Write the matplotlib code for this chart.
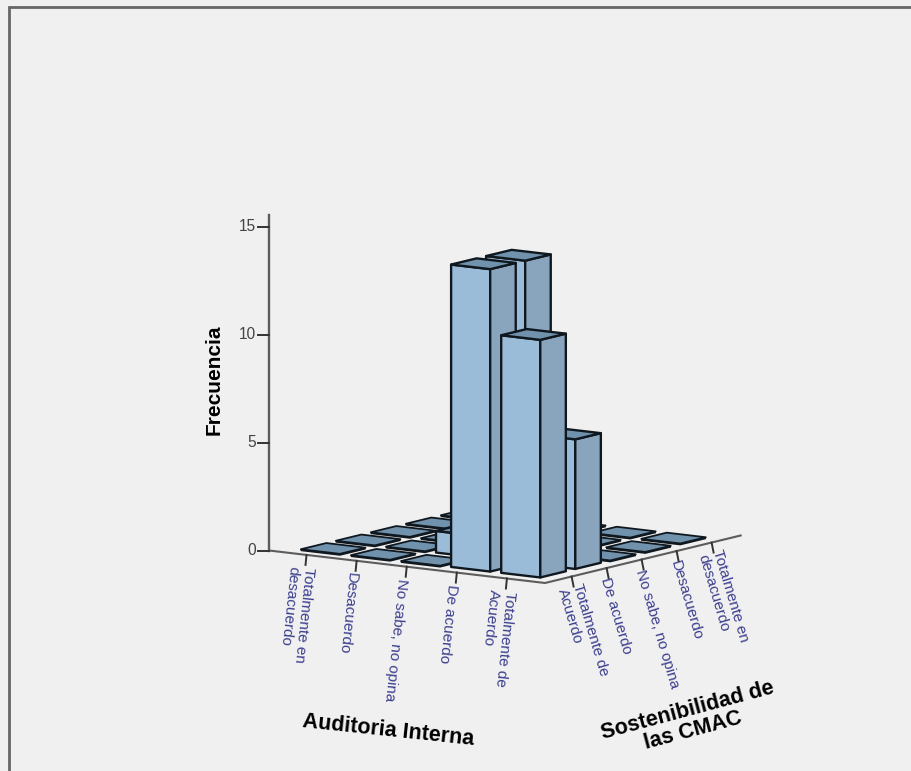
import numpy as np
import matplotlib
matplotlib.use("Agg")
import matplotlib.pyplot as plt
from matplotlib.patches import Polygon

plt.rcParams['font.family'] = ['Liberation Sans', 'DejaVu Sans']

# Crosstab counts: rows are Auditoria Interna, columns are Sostenibilidad de las CMAC
auditoria_labels = ["Totalmente en\ndesacuerdo", "Desacuerdo", "No sabe, no opina",
                    "De acuerdo", "Totalmente de\nAcuerdo"]
sostenibilidad_labels = ["Totalmente de\nAcuerdo", "De acuerdo", "No sabe, no opina",
                         "Desacuerdo", "Totalmente en\ndesacuerdo"]
frecuencia = [
    [0, 0, 0, 0, 0],
    [0, 0, 0, 0, 0],
    [0, 1, 0, 0, 0],
    [14, 14, 0, 0, 0],
    [11, 6, 0, 0, 0],
]
z_ticks = [0, 5, 10, 15]

W, H = 911, 771
BG = '#f0f0f0'
FRONT, SIDE, TOP = '#9bbcd9', '#89a4bd', '#7092ad'
EDGE = '#10181f'
AXIS = '#5c5c5c'
TICK = '#333333'
LABEL = '#3c3f8e'

fig = plt.figure(figsize=(W / 100, H / 100), dpi=100, facecolor=BG)
ax = fig.add_axes([0, 0, 1, 1])
ax.set_xlim(0, W)
ax.set_ylim(H, 0)
ax.axis('off')

# Oblique projection of the floor: a runs along Auditoria, s along Sostenibilidad
ORIGIN = np.array([545.0, 583.0])
U = np.array([50.1, 5.9])
V = np.array([35.0, -8.5])
PX_PER_UNIT = 21.6
MARGIN = 0.76
BAR_W, BAR_D = 0.78, 0.73
n = len(auditoria_labels)


def project(a, s, z=0.0):
    """a and s are category positions, with category centres on the integers."""
    p = ORIGIN + U * (a - (n - 1) - MARGIN) + V * (s + MARGIN)
    return (p[0], p[1] - z * PX_PER_UNIT)


def draw_bar(i, j, value, order):
    a0, a1 = i - BAR_W / 2, i + BAR_W / 2
    s0, s1 = j - BAR_D / 2, j + BAR_D / 2
    style = dict(edgecolor=EDGE, linewidth=1.7, joinstyle='round', zorder=order)
    if value > 0:
        ax.add_patch(Polygon([project(a0, s0), project(a1, s0),
                              project(a1, s0, value), project(a0, s0, value)],
                             facecolor=FRONT, **style))
        ax.add_patch(Polygon([project(a1, s0), project(a1, s1),
                              project(a1, s1, value), project(a1, s0, value)],
                             facecolor=SIDE, **style))
    else:
        # Empty cells still show a thin dark slab below their top
        slab = [project(a, s) for a, s in [(a0, s0), (a1, s0), (a1, s1), (a0, s1)]]
        slab = [(x, y + 1.0) for x, y in slab]
        ax.add_patch(Polygon(slab, facecolor=EDGE, edgecolor=EDGE, linewidth=1.3, zorder=order))
        style['linewidth'] = 1.3
    ax.add_patch(Polygon([project(a0, s0, value), project(a1, s0, value),
                          project(a1, s1, value), project(a0, s1, value)],
                         facecolor=TOP, **style))


# Painter's order: far columns first, then towards the viewer along Auditoria
order = 10
for j in range(n - 1, -1, -1):
    for i in range(n):
        draw_bar(i, j, frecuencia[i][j], order)
        order += 1

# Floor edges
left = project(-0.74, -MARGIN)
corner = project(n - 1 + MARGIN, -MARGIN)
right = project(n - 1 + MARGIN, n - 1 + 0.83)
ax.plot([left[0], corner[0], right[0]], [left[1], corner[1], right[1]],
        color=AXIS, lw=1.5, zorder=5, solid_joinstyle='miter')

# Vertical axis
base = left
ax.plot([base[0], base[0]], [base[1], base[1] - 15.55 * PX_PER_UNIT], color=AXIS, lw=1.7, zorder=5)
for t in z_ticks:
    y = base[1] - t * PX_PER_UNIT
    ax.plot([base[0] - 11, base[0]], [y, y], color=TICK, lw=1.4, zorder=5)
    ax.text(base[0] - 13, y, str(t), ha='right', va='center', fontsize=11.2, color='#444444')
ax.text(214.5, 380, "Frecuencia", rotation=90, ha='center', va='center',
        fontsize=15, fontweight='bold', color='black')

# Category ticks and their slanted labels
for i, lab in enumerate(auditoria_labels):
    p = project(i, -MARGIN)
    ax.plot([p[0], p[0] - 1], [p[1], p[1] + 10], color=TICK, lw=1.4, zorder=5)
    ax.text(p[0] - 5, p[1] + 12, lab, rotation=-96, rotation_mode='anchor', ha='left',
            va='center', fontsize=11, color=LABEL, linespacing=1.15)
for j, lab in enumerate(sostenibilidad_labels):
    p = project(n - 1 + MARGIN, j)
    ax.plot([p[0], p[0] + 2], [p[1], p[1] + 10], color=TICK, lw=1.4, zorder=5)
    ax.text(p[0] - 2, p[1] + 10, lab, rotation=-73.5, rotation_mode='anchor', ha='left',
            va='center', fontsize=11, color=LABEL, linespacing=1.15)

# Axis titles
ax.text(388, 731, "Auditoria Interna", rotation=-6, rotation_mode='anchor', ha='center',
        va='center', fontsize=15.5, fontweight='bold', color='black')
ax.text(690, 721, "Sostenibilidad de\nlas CMAC", rotation=15, rotation_mode='anchor', ha='center',
        va='center', fontsize=15.5, fontweight='bold', color='black', linespacing=1.0)

# Outer frame, open at the bottom
ax.plot([8.5, 8.5, W], [H, 6.5, 6.5], color='#666666', lw=2.0, zorder=20, solid_joinstyle='miter')

fig.savefig('out.png', dpi=100, facecolor=BG)
